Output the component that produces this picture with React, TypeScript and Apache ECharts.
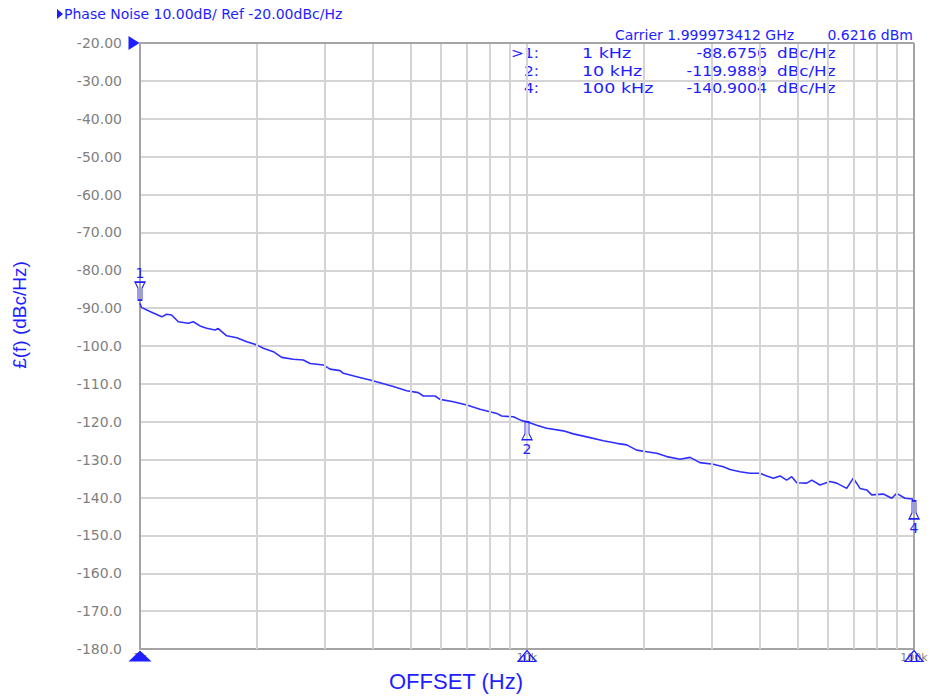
import React, { useEffect, useRef } from "react";
import * as echarts from "echarts";

const offsetHz = [
  1000, 1008, 1061, 1138, 1172, 1207, 1256, 1333, 1373, 1429, 1487, 1562, 1593, 1675, 1778, 1887,
  2002, 2083, 2211, 2323, 2489, 2642, 2750, 2976, 3097, 3287, 3353, 3631, 3929, 4171, 4512, 4888,
  5239, 5395, 5784, 5960, 6451, 6987, 7560, 8351, 8603, 9218, 9690, 10000, 10595, 11243, 12410,
  13175, 14273, 15749, 17057, 18098, 19209, 20391, 21636, 22961, 24850, 26375, 27990, 30290, 32157,
  33460, 35510, 37690, 39990, 41640, 43290, 45070, 46880, 48310, 49770, 52820, 54420, 57160, 60660,
  63140, 67000, 69680, 72530, 75460, 77740, 83310, 87590, 90230, 94780, 99000, 100000,
];
const noiseDbc = [
  -88.7, -89.8, -90.9, -92.3, -91.6, -91.8, -93.6, -94.0, -93.6, -94.7, -95.3, -95.8, -95.4, -97.3,
  -97.8, -98.9, -99.7, -100.6, -101.5, -103.0, -103.5, -103.7, -104.6, -105.0, -106.1, -106.5,
  -107.2, -108.1, -109.0, -109.7, -110.7, -111.8, -112.3, -113.2, -113.2, -114.1, -114.7, -115.6,
  -116.7, -117.8, -118.5, -118.7, -119.7, -119.99, -120.9, -121.7, -122.4, -123.2, -124.0, -125.0,
  -125.7, -126.1, -127.5, -127.9, -128.3, -129.2, -129.9, -129.4, -130.8, -131.2, -131.9, -132.6,
  -133.2, -133.6, -133.6, -134.3, -134.9, -134.3, -135.4, -134.5, -136.1, -136.2, -135.4, -136.7,
  -135.8, -136.2, -137.6, -134.9, -137.6, -138.0, -139.3, -139.1, -140.2, -138.9, -140.2, -140.4,
  -140.9,
];

const markerIds = ["1", "2", "4"];
const markerFreqs = [1000, 10000, 100000];
const markerValues = [-88.6756, -119.9889, -140.9004];
const markerFreqLabels = ["1 kHz", "10 kHz", "100 kHz"];
const markerRowLabels = [">1:", "2:", "4:"];

const minorGridHz = [
  2000, 3000, 4000, 5000, 6000, 7000, 8000, 9000, 20000, 30000, 40000, 50000, 60000, 70000, 80000,
  90000,
];

const headerText = "Phase Noise 10.00dB/ Ref -20.00dBc/Hz";
const carrierText = "Carrier 1.999973412 GHz";
const powerText = "0.6216 dBm";
const yTitle = "£(f) (dBc/Hz)";
const xTitle = "OFFSET (Hz)";

const BLUE = "#1e1eff";
const LINE_BLUE = "#2f2fff";
const GRID = "#d4d4d4";
const FRAME = "#a4a4a4";
const FONT = "DejaVu Sans";

const bellUp = "path://M3,0 L7,0 L7,12 L10,18 L0,18 L3,12 Z";
const bellDown = "path://M0,0 L10,0 L7,6 L7,18 L3,18 L3,6 Z";
const axisTri = "path://M0,10 L7,0 L14,10 Z M5,10 L5,4 M9,10 L9,4";

export default function App() {
  const ref = useRef<HTMLDivElement>(null);
  useEffect(() => {
    if (!ref.current) return;
    const chart = echarts.init(ref.current, null, { renderer: "svg" });
    const data = offsetHz.map((f, i) => [f, noiseDbc[i]]);
    const tableRowY = [53, 71, 88];
    const graphics: any[] = [
      { type: "polygon", shape: { points: [[57, 9], [63, 14], [57, 19]] }, style: { fill: BLUE } },
      {
        type: "text", x: 64, y: 14,
        style: { text: headerText, fill: BLUE, font: `14px ${FONT}`, textVerticalAlign: "middle" },
      },
      {
        type: "text", x: 615, y: 35,
        style: { text: carrierText, fill: BLUE, font: `14px ${FONT}`, textVerticalAlign: "middle" },
      },
      {
        type: "text", x: 913, y: 35,
        style: { text: powerText, fill: BLUE, font: `14px ${FONT}`, textAlign: "right", textVerticalAlign: "middle" },
      },
      {
        type: "text", x: 19, y: 315, rotation: Math.PI / 2,
        style: { text: yTitle, fill: BLUE, font: `19px "Liberation Sans"`, textAlign: "center", textVerticalAlign: "middle" },
      },
      {
        type: "text", x: 456, y: 681,
        style: { text: xTitle, fill: BLUE, font: `22px "Liberation Sans"`, textAlign: "center", textVerticalAlign: "middle" },
      },
    ];
    markerIds.forEach((id, i) => {
      const y = tableRowY[i];
      graphics.push(
        { type: "text", x: 539, y, scaleX: 1.1, style: { text: markerRowLabels[i], fill: BLUE, font: `14px ${FONT}`, textAlign: "right", textVerticalAlign: "middle" } },
        { type: "text", x: 582, y, scaleX: 1.25, style: { text: markerFreqLabels[i], fill: BLUE, font: `14px ${FONT}`, textVerticalAlign: "middle" } },
        { type: "text", x: 767, y, scaleX: 1.12, style: { text: markerValues[i].toFixed(4), fill: BLUE, font: `14px ${FONT}`, textAlign: "right", textVerticalAlign: "middle" } },
        { type: "text", x: 777, y, scaleX: 1.2, style: { text: "dBc/Hz", fill: BLUE, font: `14px ${FONT}`, textVerticalAlign: "middle" } }
      );
    });

    const option: any = {
      animation: false,
      backgroundColor: "#ffffff",
      grid: { left: 140, top: 43, right: 24, bottom: 47, containLabel: false },
      xAxis: {
        type: "log",
        logBase: 10,
        min: 1000,
        max: 100000,
        axisLine: { show: true, lineStyle: { color: FRAME, width: 2 } },
        axisTick: { show: false },
        splitLine: { show: true, lineStyle: { color: GRID, width: 2 } },
        axisLabel: {
          show: true,
          margin: 3,
          color: "#808080",
          fontSize: 11,
          fontFamily: FONT,
          formatter: (v: number) => `${v / 1000}k`,
        },
      },
      yAxis: {
        type: "value",
        min: -180,
        max: -20,
        interval: 10,
        axisLine: { show: true, lineStyle: { color: FRAME, width: 2 } },
        axisTick: { show: false },
        splitLine: { show: true, lineStyle: { color: GRID, width: 2 } },
        axisLabel: {
          margin: 18,
          color: "#7f7f7f",
          fontSize: 14,
          fontFamily: FONT,
          formatter: (v: number) => (v > -100 ? v.toFixed(2) : v.toFixed(1)),
        },
      },
      graphic: graphics,
      series: [
        {
          type: "line",
          z: 1,
          data: [[1000, -180]],
          showSymbol: false,
          symbolSize: 0,
          lineStyle: { width: 0 },
          silent: true,
          markLine: {
            silent: true,
            symbol: ["none", "none"],
            label: { show: false },
            lineStyle: { color: GRID, width: 2, type: "solid" },
            data: [
              ...minorGridHz.map((v) => ({ xAxis: v })),
              { xAxis: 100000, lineStyle: { color: FRAME, width: 2, type: "solid" } },
              { yAxis: -20, lineStyle: { color: FRAME, width: 2, type: "solid" } },
            ],
          },
          markPoint: {
            silent: true,
            label: { show: false },
            data: [
              {
                coord: [1000, -180],
                symbol: "triangle",
                symbolSize: [23, 11],
                symbolOffset: [0, 7],
                itemStyle: { color: BLUE },
              },
              {
                coord: [10000, -180],
                symbol: axisTri,
                symbolSize: [18, 11],
                symbolOffset: [0, 7],
                itemStyle: { color: "rgba(255,255,255,0)", borderColor: BLUE, borderWidth: 1.2 },
              },
              {
                coord: [100000, -180],
                symbol: axisTri,
                symbolSize: [18, 11],
                symbolOffset: [0, 7],
                itemStyle: { color: "rgba(255,255,255,0)", borderColor: BLUE, borderWidth: 1.2 },
              },
              {
                coord: [1000, -20],
                symbol: "triangle",
                symbolRotate: -90,
                symbolSize: [14, 11],
                symbolOffset: [-6, 0],
                itemStyle: { color: BLUE },
              },
            ],
          },
        },
        {
          type: "line",
          z: 3,
          data,
          showSymbol: false,
          symbol: "none",
          lineStyle: { color: LINE_BLUE, width: 1.6 },
          markPoint: {
            silent: true,
            data: markerIds.map((id, i) => {
              const top = i === 0;
              return {
                coord: [markerFreqs[i], markerValues[i]],
                symbol: top ? bellDown : bellUp,
                symbolSize: [10, 18],
                symbolOffset: [0, top ? -12 : 9],
                itemStyle: { color: "rgba(255,255,255,0)", borderColor: BLUE, borderWidth: 1.2 },
                label: {
                  show: true,
                  formatter: id,
                  position: top ? "top" : "bottom",
                  distance: 1,
                  color: BLUE,
                  fontSize: 14,
                  fontFamily: FONT,
                },
              };
            }),
          },
        },
      ],
    };
    chart.setOption(option);
    return () => chart.dispose();
  }, []);
  return (
    <div
      ref={ref}
      style={{ position: "absolute", left: 0, top: 0, width: 938, height: 696, background: "#fff" }}
    />
  );
}
